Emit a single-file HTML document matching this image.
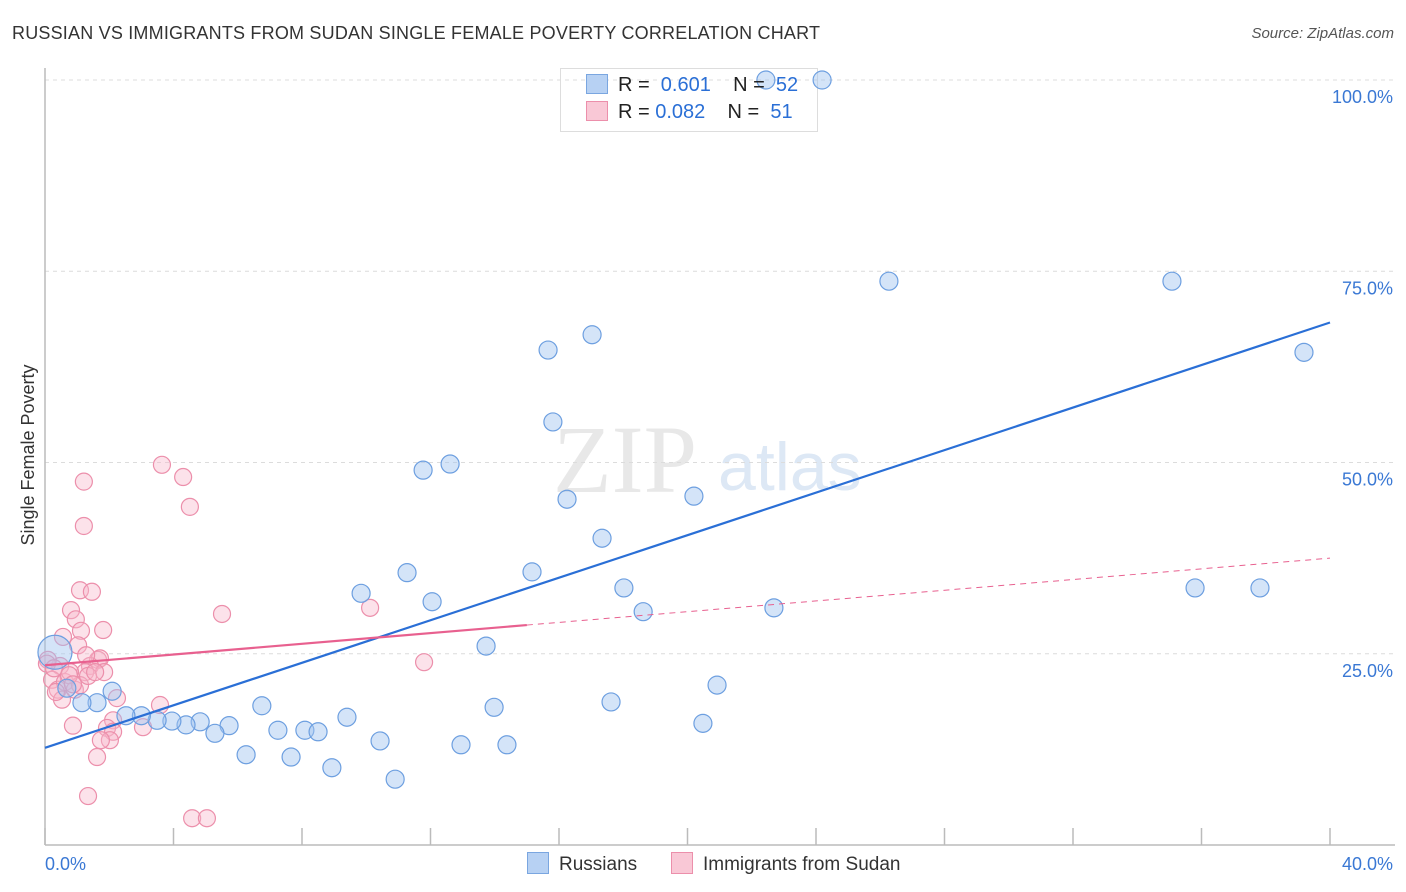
<!DOCTYPE html>
<html><head><meta charset="utf-8">
<style>
body{margin:0;background:#fff;font-family:"Liberation Sans",sans-serif;}
#wrap{position:relative;width:1406px;height:892px;overflow:hidden;}
.t{position:absolute;white-space:nowrap;}
</style></head>
<body>
<div id="wrap">
<div class="t" style="left:12px;top:23px;font-size:18px;letter-spacing:0.2px;color:#333;">RUSSIAN VS IMMIGRANTS FROM SUDAN SINGLE FEMALE POVERTY CORRELATION CHART</div>
<div class="t" style="right:12px;top:25px;font-size:15px;color:#555;font-style:italic;">Source: ZipAtlas.com</div>
<div class="t" style="left:560px;top:68px;width:256px;height:62px;border:1px solid #ddd;background:#fff;"></div>
<svg id="plot" width="1406" height="892" style="position:absolute;left:0;top:0"></svg>
<div class="t" style="left:586px;top:74px;font-size:20px;color:#222;">
<span style="display:inline-block;width:20px;height:18px;background:#b7d1f3;border:1px solid #7aa6e0;vertical-align:-3px;margin-right:10px;"></span>R = &nbsp;<span style="color:#2a6fd6">0.601</span>&nbsp;&nbsp;&nbsp; N = &nbsp;<span style="color:#2a6fd6">52</span></div>
<div class="t" style="left:586px;top:101px;font-size:20px;color:#222;">
<span style="display:inline-block;width:20px;height:18px;background:#f9c8d6;border:1px solid #ec8fab;vertical-align:-3px;margin-right:10px;"></span>R = <span style="color:#2a6fd6">0.082</span>&nbsp;&nbsp;&nbsp; N = &nbsp;<span style="color:#2a6fd6">51</span></div>
</div>
<script>
const yTicks=[25,50,75,100];
const yTickLabels=["25.0%","50.0%","75.0%","100.0%"];
const xTickLabels=["0.0%","40.0%"];
const russiansX=[22.44,24.19,26.27,35.08,39.19,15.66,17.03,15.81,11.77,12.61,16.25,20.20,17.34,11.27,15.16,9.84,12.05,18.02,18.62,22.69,35.80,37.82,13.73,13.98,17.62,20.92,20.48,12.95,14.38,10.43,9.40,10.90,8.93,8.09,8.50,7.66,7.25,6.75,6.26,5.73,5.29,4.83,4.39,3.95,3.49,3.00,2.52,2.09,1.62,1.15,0.68,0.31];
const russiansY=[100,100,73.7,73.7,64.4,64.7,66.7,55.3,49.0,49.8,45.2,45.6,40.1,35.6,35.7,32.9,31.8,33.6,30.5,31.0,33.6,33.6,26.0,18.0,18.7,20.9,15.9,13.1,13.1,13.6,16.7,8.6,10.1,15.0,14.8,11.5,15.0,18.2,11.8,15.6,14.6,16.1,15.7,16.2,16.3,16.9,16.9,20.1,18.6,18.6,20.5,25.2];
const sudanX=[3.64,4.30,4.51,1.21,1.21,1.09,1.46,0.81,0.96,1.12,1.81,5.51,10.12,11.80,0.56,1.03,1.65,1.71,1.40,1.84,1.25,0.47,0.09,0.22,0.40,0.62,0.78,0.93,0.53,1.09,1.34,2.24,3.58,2.12,1.93,2.12,2.02,1.74,0.87,3.05,1.62,1.34,4.58,5.04,0.06,0.28,1.56,0.75,1.28,0.34,0.87];
const sudanY=[49.7,48.1,44.2,47.5,41.7,33.3,33.1,30.7,29.5,28.0,28.1,30.2,31.0,23.9,27.2,26.1,24.2,24.4,23.4,22.6,22.6,23.4,24.2,21.6,20.3,21.3,22.6,20.3,19.0,20.9,22.1,19.2,18.3,16.3,15.3,14.8,13.7,13.7,15.6,15.4,11.5,6.4,3.5,3.5,23.7,23.1,22.6,22.2,24.8,20.0,21.0];
const blueTrend=[12.7,1.39];
const pinkTrend=[23.5,0.35];

const X0=45,X1=1330,Y0=845,Y100=80;
const sx=v=>X0+(v/40)*(X1-X0);
const sy=v=>Y0-(v/100)*(Y0-Y100);
const svg=document.getElementById('plot');
const NS='http://www.w3.org/2000/svg';
function mk(tag,attrs){const e=document.createElementNS(NS,tag);for(const k in attrs)e.setAttribute(k,attrs[k]);svg.appendChild(e);return e;}

let wm=mk('text',{x:553,y:492,'font-size':96,'font-family':'Liberation Serif,serif',fill:'#e8e8e8'});wm.textContent='ZIP';


let wm2=mk('text',{x:718,y:490,'font-size':68,'font-family':'Liberation Sans,sans-serif',fill:'#dde8f5'});wm2.textContent='atlas';



yTicks.forEach((t,i)=>{
  const g=mk('line',{x1:X0,x2:1395,y1:sy(t),y2:sy(t),stroke:'#dcdcdc','stroke-dasharray':'4,4'});
  
  
  const l=mk('text',{x:1393,y:sy(t)+23,'text-anchor':'end','font-size':18,fill:'#3a78d4','font-family':'Liberation Sans,sans-serif'});
  l.textContent=yTickLabels[i];
  
  
});
let ax=mk('line',{x1:X0,x2:X0,y1:68,y2:Y0,stroke:'#bbb','stroke-width':1.5});


let bx=mk('line',{x1:X0,x2:1395,y1:Y0,y2:Y0,stroke:'#bbb','stroke-width':1.5});


for(let i=0;i<=10;i++){
  const tk=mk('line',{x1:sx(i*4),x2:sx(i*4),y1:828,y2:Y0,stroke:'#bbb','stroke-width':1.5});
  
  
}
let xl0=mk('text',{x:45,y:870,'font-size':18,fill:'#3a78d4','font-family':'Liberation Sans,sans-serif'});xl0.textContent=xTickLabels[0];


let xl1=mk('text',{x:1393,y:870,'text-anchor':'end','font-size':18,fill:'#3a78d4','font-family':'Liberation Sans,sans-serif'});xl1.textContent=xTickLabels[1];


let yt=mk('text',{x:34,y:455,'font-size':18,fill:'#333','text-anchor':'middle',transform:'rotate(-90 34 455)','font-family':'Liberation Sans,sans-serif'});yt.textContent='Single Female Poverty';



sudanX.forEach((x,i)=>{
  const c=mk('circle',{cx:sx(x),cy:sy(sudanY[i]),r:8.5,fill:'rgba(248,182,202,0.4)',stroke:'#ec8fab','stroke-width':1.2});
  
  
});
russiansX.forEach((x,i)=>{
  const big=i===russiansX.length-1;
  const c=mk('circle',{cx:sx(x),cy:sy(russiansY[i]),r:big?17:9,fill:'rgba(160,196,240,0.45)',stroke:'#6d9fe0','stroke-width':1.2});
  
  
});
let bl=mk('line',{x1:sx(0),y1:sy(blueTrend[0]),x2:sx(40),y2:sy(blueTrend[0]+blueTrend[1]*40),stroke:'#2a6fd6','stroke-width':2.2});


let pl=mk('line',{x1:sx(0),y1:sy(pinkTrend[0]),x2:sx(15),y2:sy(pinkTrend[0]+pinkTrend[1]*15),stroke:'#e8608f','stroke-width':2.2});


let pd=mk('line',{x1:sx(15),y1:sy(pinkTrend[0]+pinkTrend[1]*15),x2:sx(40),y2:sy(pinkTrend[0]+pinkTrend[1]*40),stroke:'#e8608f','stroke-width':1,'stroke-dasharray':'6,5'});


</script>

<div class="t" style="left:527px;top:852px;font-size:19px;color:#333;"><span style="display:inline-block;width:20px;height:20px;background:#b7d1f3;border:1px solid #7aa6e0;vertical-align:-4px;margin-right:10px;"></span>Russians</div>
<div class="t" style="left:671px;top:852px;font-size:19px;color:#333;"><span style="display:inline-block;width:20px;height:20px;background:#f9c8d6;border:1px solid #ec8fab;vertical-align:-4px;margin-right:10px;"></span>Immigrants from Sudan</div>
</body></html>
